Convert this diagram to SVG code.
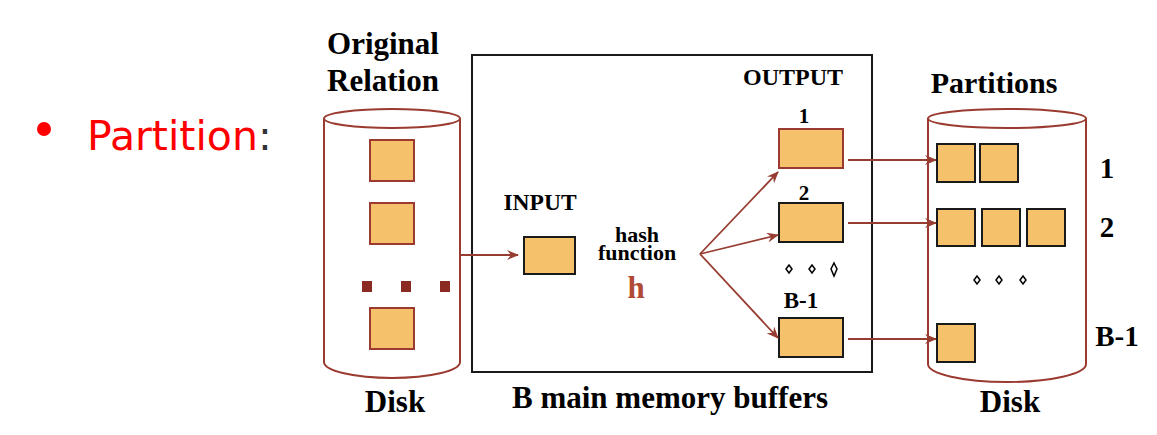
<svg xmlns="http://www.w3.org/2000/svg" width="1157" height="435" viewBox="0 0 1157 435">
<style>
.t{font-family:"Liberation Serif","Times New Roman",serif;font-weight:bold;fill:#000;text-anchor:middle}
.cyl{fill:none;stroke:#9b3a30;stroke-width:2}
.blk{fill:#f5c26b;stroke:#1a1a1a;stroke-width:2}
.blkr{fill:#f5c26b;stroke:#9b3a30;stroke-width:2}
.con{fill:none;stroke:#963c30;stroke-width:1.8}
.dia{fill:#fff;stroke:#000;stroke-width:1.5}
.dot{fill:#8b2a22}
</style>
<defs>
<marker id="ah" viewBox="0 0 12 10" refX="11" refY="5" markerWidth="12" markerHeight="10" markerUnits="userSpaceOnUse" orient="auto">
<path d="M0,0 L12,5 L0,10 L4,5 z" fill="#963c30"/>
</marker>
</defs>
<rect width="1157" height="435" fill="#fff"/>
<g id="bullet">
<circle cx="44" cy="129" r="7" fill="#f00"/>
<text x="87" y="150" font-family="DejaVu Sans,Verdana,sans-serif" font-size="41" fill="#f00">Partition<tspan fill="#333">:</tspan></text>
</g>
<g id="original-relation">
<text class="t" x="383" y="54" font-size="31">Original</text>
<text class="t" x="383" y="91" font-size="31">Relation</text>
<path class="cyl" d="M324,118.5 L324,362 A68,16 0 0 0 460,362 L460,118.5"/>
<ellipse class="cyl" cx="392" cy="118.5" rx="68" ry="9.5"/>
<rect class="blkr" x="370" y="140" width="44" height="41"/>
<rect class="blkr" x="370" y="203" width="44" height="41"/>
<rect class="blkr" x="370" y="308" width="44" height="41"/>
<rect class="dot" x="362" y="281" width="10" height="11"/>
<rect class="dot" x="401" y="281" width="10" height="11"/>
<rect class="dot" x="440" y="281" width="10" height="11"/>
<text class="t" x="395" y="412" font-size="31">Disk</text>
</g>
<g id="memory">
<rect x="472" y="55" width="400" height="317" fill="none" stroke="#1a1a1a" stroke-width="2"/>
<text class="t" x="670" y="408" font-size="31">B main memory buffers</text>
</g>
<g id="input">
<text class="t" x="540" y="210" font-size="23.5">INPUT</text>
<rect class="blk" x="524" y="237" width="51" height="37"/>
</g>
<g id="hash">
<text class="t" x="637" y="242" font-size="22">hash</text>
<text class="t" x="637" y="260" font-size="22">function</text>
<text class="t" x="636" y="298" font-size="31" style="fill:#b04a35">h</text>
</g>
<g id="output">
<text class="t" x="793" y="85" font-size="24">OUTPUT</text>
<text class="t" x="804" y="123" font-size="21">1</text>
<rect class="blkr" x="779" y="129" width="64" height="39"/>
<text class="t" x="804" y="200" font-size="21">2</text>
<rect class="blk" x="779" y="203" width="64" height="39"/>
<polygon class="dia" points="789,265 792,269 789,273 786,269"/>
<polygon class="dia" points="812,265 815,269 812,273 809,269"/>
<polygon class="dia" points="834,263 837,269 834,276 831,269"/>
<text class="t" x="801" y="308" font-size="23">B-1</text>
<rect class="blk" x="779" y="318" width="64" height="39"/>
</g>
<g id="partitions">
<text class="t" x="994" y="93" font-size="30">Partitions</text>
<path class="cyl" d="M928,118.5 L928,364 A79,18 0 0 0 1086,364 L1086,118.5"/>
<ellipse class="cyl" cx="1007" cy="118.5" rx="79" ry="9.5"/>
<rect class="blk" x="937" y="144" width="38" height="38"/>
<rect class="blk" x="980" y="144" width="38" height="38"/>
<rect class="blk" x="937" y="209" width="38" height="37"/>
<rect class="blk" x="982" y="209" width="38" height="37"/>
<rect class="blk" x="1027" y="209" width="38" height="37"/>
<polygon class="dia" points="977,276 980,280 977,284 974,280"/>
<polygon class="dia" points="999,276 1002,280 999,284 996,280"/>
<polygon class="dia" points="1023,276 1026,280 1023,284 1020,280"/>
<rect class="blk" x="937" y="324" width="38" height="38"/>
<text class="t" x="1107" y="178" font-size="29">1</text>
<text class="t" x="1107" y="237" font-size="29">2</text>
<text class="t" x="1117" y="346" font-size="29">B-1</text>
<text class="t" x="1010" y="412" font-size="31">Disk</text>
</g>
<g id="connectors">
<line class="con" x1="460" y1="255" x2="518" y2="255" marker-end="url(#ah)"/>
<line class="con" x1="700" y1="254" x2="778" y2="172" marker-end="url(#ah)"/>
<line class="con" x1="700" y1="254" x2="778" y2="235" marker-end="url(#ah)"/>
<line class="con" x1="700" y1="254" x2="778" y2="338" marker-end="url(#ah)"/>
<line class="con" x1="848" y1="160" x2="936" y2="160" marker-end="url(#ah)"/>
<line class="con" x1="848" y1="223" x2="936" y2="223" marker-end="url(#ah)"/>
<line class="con" x1="848" y1="339" x2="936" y2="339" marker-end="url(#ah)"/>
</g>
</svg>
